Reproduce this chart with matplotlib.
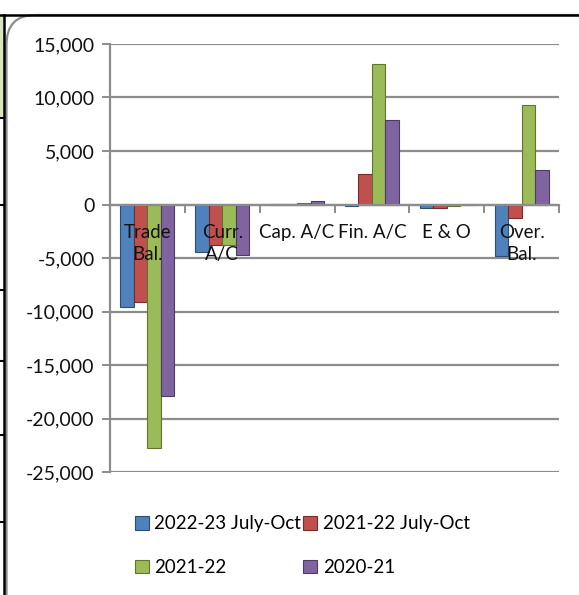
import matplotlib
matplotlib.use("Agg")
import matplotlib.pyplot as plt
from matplotlib.patches import FancyBboxPatch, Rectangle
from matplotlib.lines import Line2D
import numpy as np

categories = ["Trade\nBal.", "Curr.\nA/C", "Cap. A/C", "Fin. A/C", "E & O", "Over.\nBal."]
series_names = ["2022-23 July-Oct", "2021-22 July-Oct", "2021-22", "2020-21"]
s_2022_23_jo = [-9600, -4420, 30, -100, -310, -4830]
s_2021_22_jo = [-9130, -3740, 20, 2830, -310, -1250]
s_2021_22 = [-22750, -3760, 150, 13090, -100, 9260]
s_2020_21 = [-17860, -4680, 310, 7880, -50, 3210]
yticks = [15000, 10000, 5000, 0, -5000, -10000, -15000, -20000, -25000]

colors = ["#4F81BD", "#C0504D", "#9BBB59", "#8064A2"]
edges = ["#2C4D75", "#772C2A", "#5F7530", "#4D3B62"]

W, H = 579, 595
fig = plt.figure(figsize=(W / 100, H / 100), dpi=100)
plt.rcParams['font.family'] = ['Lato', 'DejaVu Sans']

# background decorations (spreadsheet borders and rounded chart frame)
def px(x, y):
    return (x / W, 1 - y / H)

fig.patches.append(Rectangle(px(0, 118), 3.5 / W, 103 / H, transform=fig.transFigure,
                             facecolor="#D7E4BD", edgecolor="none", zorder=0))
frame = FancyBboxPatch(px(6.5, 640), (640 - 6.5) / W, (640 - 15) / H,
                       boxstyle="round,pad=0,rounding_size=0.05",
                       transform=fig.transFigure, facecolor="white",
                       edgecolor="#8C8C8C", linewidth=1.6, zorder=1)
fig.patches.append(frame)
fig.lines.append(Line2D([0, 1], [1 - 14.5 / H] * 2, transform=fig.transFigure,
                        color="black", lw=1.8, zorder=2))
fig.lines.append(Line2D([4 / W] * 2, [0, 1 - 14.5 / H], transform=fig.transFigure,
                        color="black", lw=1.8, zorder=2))
for yy in [118, 205, 290, 361, 435, 522]:
    fig.lines.append(Line2D([0, 4 / W], [1 - yy / H] * 2, transform=fig.transFigure,
                            color="black", lw=1.5, zorder=2))

ax = fig.add_axes([110 / W, 1 - 472 / H, (559 - 110) / W, (472 - 44) / H])
ax.set_facecolor("none")
ax.set_zorder(3)

x = np.arange(len(categories))
bw = 0.18
data = [s_2022_23_jo, s_2021_22_jo, s_2021_22, s_2020_21]
handles = []
for i, (vals, c, ec, name) in enumerate(zip(data, colors, edges, series_names)):
    b = ax.bar(x + (i - 1.5) * bw, vals, width=bw, color=c, edgecolor=ec,
               linewidth=0.8, label=name, zorder=3)
    handles.append(b)

ax.set_xlim(-0.5, len(categories) - 0.5)
ax.set_ylim(-25000, 15000)
ax.set_yticks(yticks)
ax.set_yticklabels([f"{v:,}" for v in yticks], fontsize=14, color="#111111")
ax.yaxis.grid(True, color="#8C8C8C", linewidth=1.6, zorder=0)
ax.tick_params(axis="y", length=6, width=1.4, color="#8C8C8C", pad=5)

for s in ["top", "right"]:
    ax.spines[s].set_visible(False)
ax.spines["left"].set_color("#8C8C8C")
ax.spines["left"].set_linewidth(1.6)
ax.spines["bottom"].set_position(("data", 0))
ax.spines["bottom"].set_color("#8C8C8C")
ax.spines["bottom"].set_linewidth(1.6)
ax.spines["bottom"].set_zorder(4)
ax.set_xticks(np.arange(len(categories) + 1) - 0.5)
ax.set_xticklabels([])
ax.tick_params(axis="x", length=6, width=1.4, color="#8C8C8C", direction="out")

for i, lab in enumerate(categories):
    ax.annotate(lab, xy=(i, 0), xytext=(0, -14), textcoords="offset points",
                ha="center", va="top", fontsize=13.5, linespacing=1.35,
                color="#111111", zorder=5)

order = [0, 2, 1, 3]
fig.legend(handles=[handles[k] for k in order],
           labels=[series_names[k] for k in order], loc="upper left",
           bbox_to_anchor=(127 / W, 1 - 508 / H), ncol=2, frameon=False,
           fontsize=13.5, handlelength=0.75, handleheight=0.75, handletextpad=0.3,
           columnspacing=0.1, labelspacing=1.42, borderaxespad=0)

fig.savefig("out.png", dpi=100)
